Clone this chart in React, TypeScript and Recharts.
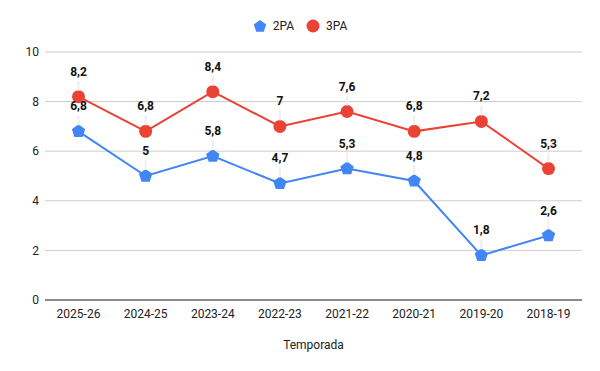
import { LineChart, Line, XAxis, YAxis, CartesianGrid, Legend, LabelList } from "recharts";

// Temporadas (eje X)
const seasons = ["2025-26", "2024-25", "2023-24", "2022-23", "2021-22", "2020-21", "2019-20", "2018-19"];
// Valores por serie
const twoPA = [6.8, 5, 5.8, 4.7, 5.3, 4.8, 1.8, 2.6];
const threePA = [8.2, 6.8, 8.4, 7, 7.6, 6.8, 7.2, 5.3];
const yTicks = [0, 2, 4, 6, 8, 10];

const BLUE = "#4285F4";
const RED = "#EA4335";
const FONT = "Roboto, Arial, sans-serif";

const data = seasons.map((s, i) => ({ season: s, "2PA": twoPA[i], "3PA": threePA[i] }));

const fmt = (v: number) => String(v).replace(".", ",");

// pentagon path around a center
const pentagon = (cx: number, cy: number, r: number) => {
  const pts = [];
  for (let k = 0; k < 5; k++) {
    const a = -Math.PI / 2 + (k * 2 * Math.PI) / 5;
    pts.push(`${cx + r * Math.cos(a)},${cy + r * Math.sin(a)}`);
  }
  return pts.join(" ");
};

const PentagonDot = (props: any) => {
  const { cx, cy, index } = props;
  if (cx == null || cy == null) return null;
  return <polygon key={`p-${index}`} points={pentagon(cx, cy, 7)} fill={BLUE} />;
};

const CircleDot = (props: any) => {
  const { cx, cy, index } = props;
  if (cx == null || cy == null) return null;
  return <circle key={`c-${index}`} cx={cx} cy={cy} r={6.5} fill={RED} />;
};

// label with faint leader line
const PointLabel = (props: any) => {
  const { x, y, value } = props;
  return (
    <g>
      <line x1={x} y1={y - 6} x2={x} y2={y - 16} stroke="#eeeeee" strokeWidth={2} />
      <text x={x} y={y - 21} textAnchor="middle" fontFamily={FONT} fontSize={12} fontWeight="bold" fill="#111">
        {fmt(value)}
      </text>
    </g>
  );
};

const LegendContent = () => (
  <div style={{ display: "flex", justifyContent: "center", alignItems: "center", fontFamily: FONT, fontSize: 12, color: "#222" }}>
    <svg width={14} height={14} style={{ marginRight: 6 }}>
      <polygon points={pentagon(7, 7.5, 6.5)} fill={BLUE} />
    </svg>
    <span style={{ marginRight: 12 }}>2PA</span>
    <svg width={14} height={14} style={{ marginRight: 6 }}>
      <circle cx={7} cy={7} r={6.5} fill={RED} />
    </svg>
    <span>3PA</span>
  </div>
);

export default function App() {
  return (
    <div style={{ position: "absolute", left: 0, top: 0, background: "#fff" }}>
      <LineChart width={600} height={371} data={data} margin={{ top: 38, right: 18, left: 0, bottom: 0 }}>
        <CartesianGrid vertical={false} stroke="#cccccc" />
        <XAxis
          dataKey="season"
          height={71}
          padding={{ left: 33.5, right: 33.5 }}
          tickLine={false}
          axisLine={{ stroke: "#333333" }}
          tick={{ fontSize: 12, fill: "#222", fontFamily: FONT }}
          tickMargin={3}
          interval={0}
          label={{ value: "Temporada", position: "insideBottom", offset: 22, fontSize: 12, fill: "#222", fontFamily: FONT }}
        />
        <YAxis
          width={45}
          domain={[0, 10]}
          ticks={yTicks}
          tickLine={false}
          axisLine={false}
          tickMargin={0}
          tick={{ fontSize: 12, fill: "#222", fontFamily: FONT }}
        />
        <Legend verticalAlign="top" wrapperStyle={{ top: 19, left: 0, width: 600 }} content={<LegendContent />} />
        <Line dataKey="2PA" stroke={BLUE} strokeWidth={2} dot={<PentagonDot />} activeDot={false} isAnimationActive={false}>
          <LabelList dataKey="2PA" content={<PointLabel />} />
        </Line>
        <Line dataKey="3PA" stroke={RED} strokeWidth={2} dot={<CircleDot />} activeDot={false} isAnimationActive={false}>
          <LabelList dataKey="3PA" content={<PointLabel />} />
        </Line>
      </LineChart>
    </div>
  );
}
